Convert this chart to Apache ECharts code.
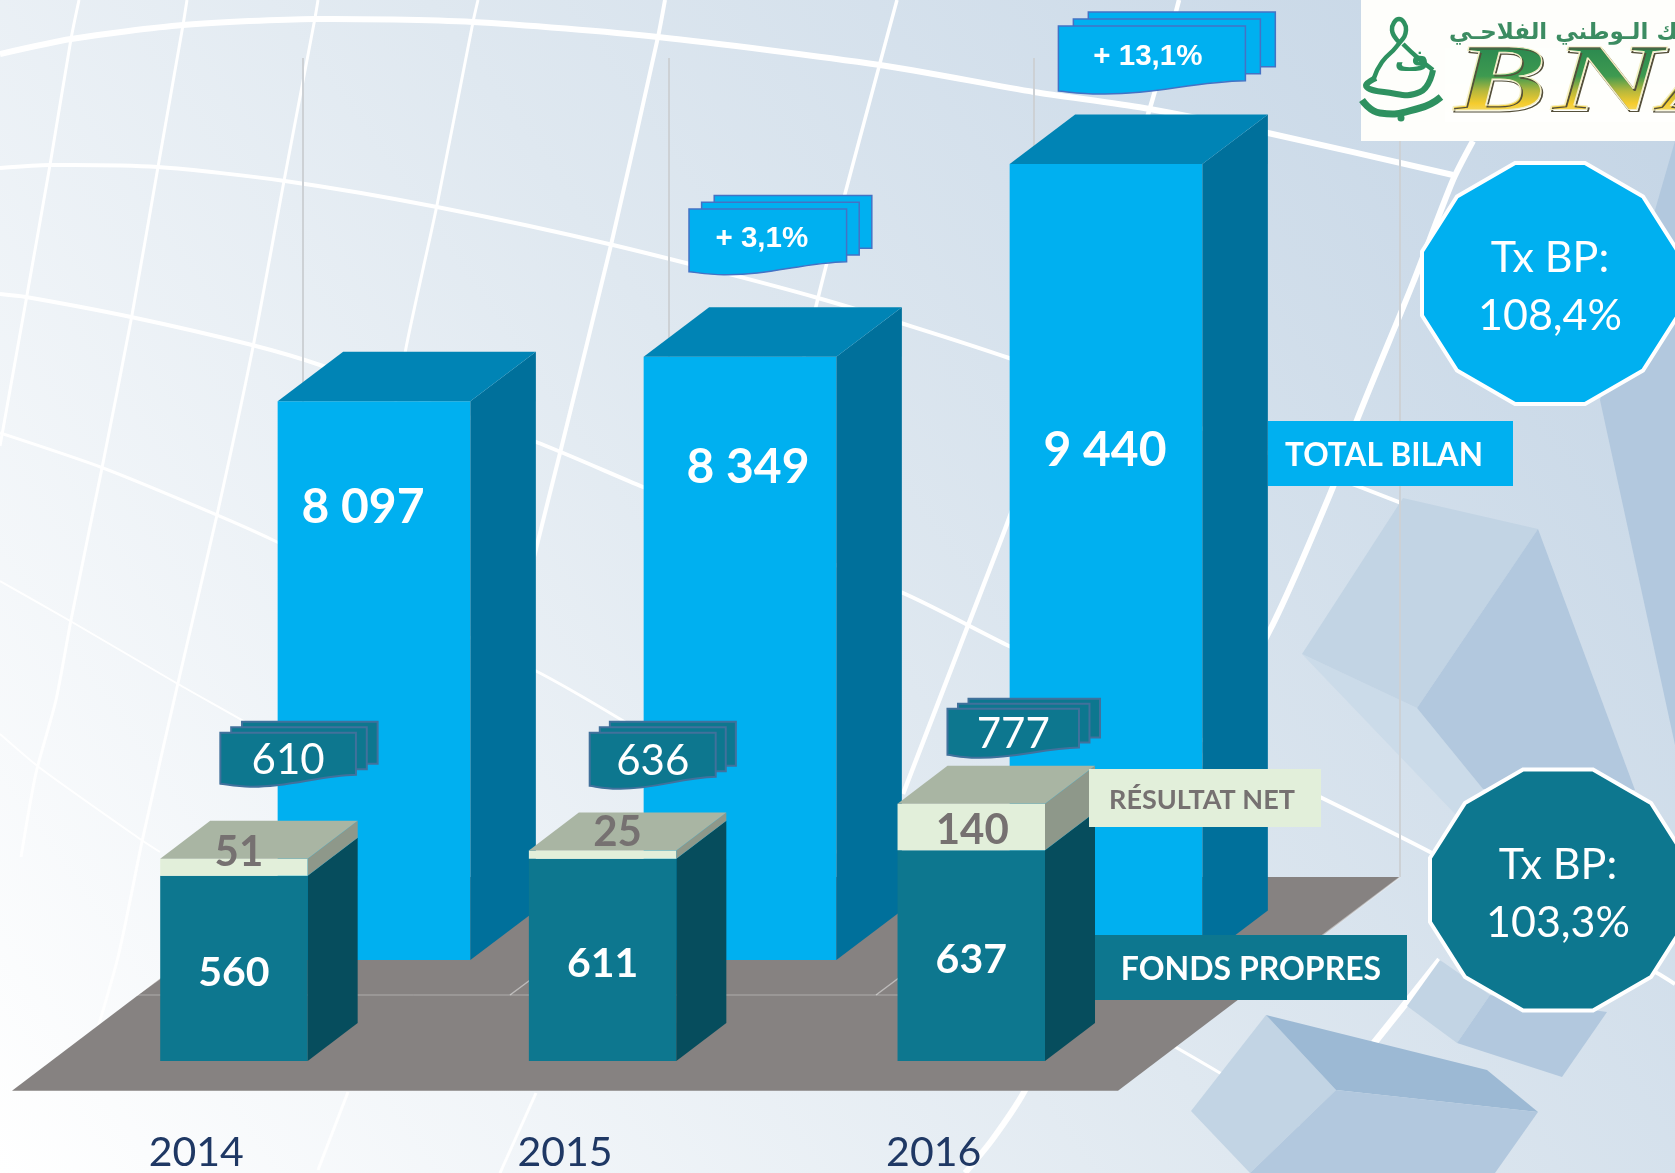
<!DOCTYPE html>
<html><head><meta charset="utf-8">
<style>html,body{margin:0;padding:0;overflow:hidden;background:#fff}#c{width:1675px;height:1173px}</style>
<script src="https://cdn.jsdelivr.net/npm/echarts@6/dist/echarts.min.js"></script>
</head><body><div id="c"></div>
<script>
// ---- data ----
const years = ['2014', '2015', '2016'];
const totalBilan = [8097, 8349, 9440];
const totalBilanText = ['8 097', '8 349', '9 440'];
const fondsPropres = [560, 611, 637];
const resultatNet = [51, 25, 140];
const cumul = [610, 636, 777];
const croissance = ['', '+ 3,1%', '+ 13,1%'];
const badges = [['Tx BP:', '108,4%'], ['Tx BP:', '103,3%']];

// ---- layout (pixels relative to what the scales return) ----
const D_TALL = [65.5, 49.4], D_SHORT = [50, 38];
const tallLabelNudge = [[-11, 106], [8, 111], [-1, 287]];
const resultNudge = [[5, -6], [15, -18], [1, 27]];
const growthDoc = [null, {dx:-51, dy:-147.7, w:157.6, hR:52.7, hL:62.7, sy:6.8, tx:-6},
                         {dx:-47.6, dy:-137.9, w:187, hR:54.7, hL:65, sy:7, tx:-4}];
const cumulDoc = [{dx:24, dy:-126.4, w:135.6, hR:42, hL:51, sy:5.5},
                  {dx:24.7, dy:-117.7, w:126, hR:44, hL:53, sy:5.5},
                  {dx:13.8, dy:-95, w:131.5, hR:38.7, hL:46, sy:5}];

const C = {blue:'#00B0F0', blueSide:'#00709B', blueTop:'#0084B5', teal:'#0D778F', tealSide:'#064D5D',
  capFront:'#E2EFDA', capTop:'#A9B5A3', capSide:'#8E988A', floor:'#868281', grey:'#767171', year:'#1F3864'};

function poly(points, fill){ return {type:'polygon', shape:{points}, style:{fill, stroke:null}}; }
function label(text, x, y, font, fill){ return {type:'text', z2:5, style:{text, x, y, font, fill, textAlign:'center', textVerticalAlign:'middle'}}; }
function box3d(l, r, yTop, yBot, d, front, side){
  return [poly([[l,yTop],[r,yTop],[r,yBot],[l,yBot]], front),
          poly([[r,yTop],[r+d[0],yTop-d[1]],[r+d[0],yBot-d[1]],[r,yBot]], side)];
}
function topFace(l, r, y, d, fill){ return poly([[l,y],[r,y],[r+d[0],y-d[1]],[l+d[0],y-d[1]]], fill); }

function renderTall(p, api){
  const i = api.value(0), band = api.size([1,0])[0], c = api.coord([i, api.value(1)]), b = api.coord([i, 4935]);
  const w = band*0.5265, l = c[0]-w/2, r = c[0]+w/2, n = tallLabelNudge[i];
  return {type:'group', children:[...box3d(l,r,c[1],b[1],D_TALL,C.blue,C.blueSide), topFace(l,r,c[1],D_TALL,C.blueTop),
    label(totalBilanText[i], c[0]+n[0], c[1]+n[1], 'bold 48px Lato', '#fff')]};
}
function shortX(api, i){
  const band = api.size([1,0])[0], cx = api.coord([i,0])[0] + band*0.102, w = band*0.4;
  return {cx, l:cx-w/2, r:cx+w/2};
}
function renderFonds(p, api){
  const i = api.value(0), v = api.value(1), s = shortX(api,i), t = api.coord([i,v])[1], b = api.coord([i,0])[1];
  return {type:'group', children:[...box3d(s.l,s.r,t,b,D_SHORT,C.teal,C.tealSide),
    label(String(v), s.cx, (t+b)/2+4, 'bold 41px Lato', '#fff')]};
}
function renderResult(p, api){
  const i = api.value(0), v = api.value(1), s = shortX(api,i), n = resultNudge[i];
  const b = api.coord([i,fondsPropres[i]])[1], t = api.coord([i,fondsPropres[i]+v])[1];
  return {type:'group', children:[...box3d(s.l,s.r,t,b,D_SHORT,C.capFront,C.capSide), topFace(s.l,s.r,t,D_SHORT,C.capTop),
    label(String(v), s.cx+n[0], t+n[1], 'bold 42px Lato', C.grey)]};
}
function docStack(x, y, o, fill, stroke, lw){
  const w=o.w, sx=w*0.08, sy=o.sy, r=x+w, yr=y+o.hR, yl=y+o.hL;
  const rect=(k)=>({type:'polygon', shape:{points:[[x+sx*k,y-sy*k],[r+sx*k,y-sy*k],[r+sx*k,yr-sy*k],[x+sx*k,yr-sy*k]]}, style:{fill,stroke,lineWidth:lw}});
  const d=`M${x} ${y}L${r} ${y}L${r} ${yr}C${x+w*0.72} ${yr+1} ${x+w*0.5} ${yl+4} ${x+w*0.22} ${yl+3}C${x+w*0.13} ${yl+3} ${x+w*0.06} ${yl+1} ${x} ${yl}Z`;
  return [rect(2), rect(1), {type:'path', shape:{pathData:d}, style:{fill,stroke,lineWidth:lw}}];
}
function renderGrowth(p, api){
  const i = api.value(0), c = api.coord([i, api.value(1)]), o = growthDoc[i];
  const x=c[0]+o.dx, y=c[1]+o.dy;
  return {type:'group', children:[...docStack(x,y,o,C.blue,'#4472C4',1.5),
    label(croissance[i], x+o.w/2+o.tx, y+o.hL*0.45+2, 'bold 29.5px "Liberation Sans"', '#fff')]};
}
function renderCumul(p, api){
  const i = api.value(0), c = api.coord([i, api.value(1)]), o = cumulDoc[i];
  const x=c[0]+o.dx, y=c[1]+o.dy;
  return {type:'group', children:[...docStack(x,y,o,C.teal,'#41719C',2),
    label(String(cumul[i]), x+o.w/2, y+o.hL*0.53+1, '42px Lato', '#fff')]};
}

// ---- decorative backdrop ----
const bg = [];
const G = (el,z)=>{el.silent=true; el.z=z||0; bg.push(el);};
G({type:'rect', shape:{x:0,y:0,width:1675,height:1173}, style:{fill:new echarts.graphic.LinearGradient(0,1,1,0,[{offset:0,color:'#ffffff'},{offset:0.5,color:'#dfe8f0'},{offset:1,color:'#c3d4e5'}])}});
const dec = (pts,fill)=>G({type:'polygon', shape:{points:pts}, style:{fill}});
const wl = (pts,lw)=>G({type:'polyline', shape:{points:pts, smooth:0.25}, style:{stroke:'#fff', lineWidth:lw, fill:null}});
wl([[0,54],[71,39],[183,25],[315,19],[473,22],[658,37],[880,65],[1034,92],[1144,108],[1268,133],[1453,175]],6);
wl([[0,168],[50,165],[158,167],[285,181],[437,207],[613,245],[818,298],[1009,358],[1268,453],[1360,487],[1470,530]],4);
wl([[0,294],[26,297],[131,317],[252,345],[320,365],[536,442],[643,487],[903,593],[1009,646],[1320,797],[1432,853],[1657,973],[1675,984]],4);
wl([[0,433],[103,468],[217,515],[277,542],[536,671],[620,719],[900,890],[1220,1073],[1320,1140]],3);
wl([[0,581],[72,622],[178,684],[247,723],[278,742]],2);
wl([[0,734],[40,768],[140,839],[160,852]],2);
wl([[79,0],[71,39],[50,165],[27,295],[0,446]],3);
wl([[187,0],[183,25],[158,167],[132,315],[102,468],[71,620],[56,700],[36,773],[21,857]],3);
wl([[318,0],[315,18],[284,181],[253,347],[217,515],[178,683],[143,837],[118,957],[89,1057]],3);
wl([[478,0],[473,22],[437,205],[406,348],[340,700]],3);
wl([[348,1092],[318,1170]],3);
wl([[665,0],[658,37],[611,245],[560,453],[536,549],[500,700]],4);
wl([[897,0],[880,63],[818,298],[700,800]],3.5);
wl([[536,1093],[500,1173]],3);
wl([[1179,0],[1150,108],[1084,310],[1010,516],[967,628],[903,794]],4.5);
wl([[1473,141],[1453,180],[1413,283],[1357,420],[1333,487],[1270,630],[1024,1092],[992,1140],[965,1173]],6);
wl([[1440,960],[1406,1003],[1374,1043]],7);
// shaded facets
dec([[1600,400],[1675,745],[1675,141]], '#b2c8de');
dec([[1302,654],[1417,708],[1483,789],[1457,816]], '#cbdbe9');
dec([[1302,654],[1403,498],[1538,529],[1417,708]], '#c2d4e4');
dec([[1538,529],[1635,790],[1483,789],[1417,708]], '#b2c8de');
dec([[1407,1006],[1457,1043],[1490,995],[1440,960]], '#c2d4e4');
dec([[1457,1043],[1562,1077],[1607,1012],[1490,995]], '#b2c8de');
// cube at the bottom right
dec([[1266,1015],[1336,1090],[1250,1173],[1191,1111]], '#c2d4e4');
dec([[1266,1015],[1487,1070],[1538,1112],[1336,1090]], '#9cb9d4');
dec([[1336,1090],[1538,1112],[1495,1173],[1250,1173]], '#b2c8de');
// the wall lines and the floor
[303,669,1034,1400].forEach(x=>G({type:'line', shape:{x1:x,y1:58,x2:x,y2:877}, style:{stroke:'#cdd1d5', lineWidth:2}}));
dec([[12,1090.7],[1118,1090.7],[1400,877],[294,877]], C.floor);
G({type:'line', shape:{x1:137,y1:995,x2:1243,y2:995}, style:{stroke:'rgba(255,255,255,0.35)', lineWidth:1}});
[[137,303],[510,669],[876,1034],[1243,1400]].forEach(a=>G({type:'line', shape:{x1:a[0],y1:995,x2:a[1],y2:877}, style:{stroke:'rgba(255,255,255,0.45)', lineWidth:1.5}}));

// logo
G({type:'rect', shape:{x:1361,y:0,width:314,height:141}, style:{fill:'#fefefb'}}, 20);
const EG = '#2E9160';
const stroke = (pts,lw)=>G({type:'polyline', shape:{points:pts, smooth:0.5}, style:{stroke:EG, lineWidth:lw, fill:null}}, 21);
stroke([[1401,44],[1392,30],[1399,19],[1406,30],[1397,46],[1382,62],[1374,78]],4.5);
stroke([[1403,44],[1418,58],[1433,70]],4.5);
stroke([[1376,78],[1366,86],[1384,92],[1420,92],[1433,70]],6);
stroke([[1362,100],[1380,113],[1420,108],[1441,97]],7);
G({type:'text', style:{text:'ف', x:1412, y:62, font:'bold 30px "DejaVu Sans"', fill:EG, textAlign:'center', textVerticalAlign:'middle'}}, 21);
G({type:'circle', shape:{cx:1401,cy:118,r:3.5}, style:{fill:EG}}, 21);
G({type:'text', style:{text:'البنك الـوطني الفلاحـي', x:1449, y:33, font:'bold 23px "DejaVu Sans"', fill:'#3C8C62', textAlign:'left', textVerticalAlign:'middle'}}, 21);
// BNA: black letters lit through a "screen" gradient, so the white ground stays white
const letters = [['B',1454,1.45],['N',1552,1.6],['A',1660,1.5]];
const base = c => ({text:c, x:0, y:0, font:'italic bold 96px "Liberation Serif"', textAlign:'left', textVerticalAlign:'middle'});
letters.forEach(a=>G({type:'text', x:a[1], y:85, scaleX:a[2], style:{...base(a[0]), fill:'#000'}}, 22));
G({type:'rect', shape:{x:1445,y:48,width:230,height:74}, style:{blend:'screen',
  fill:new echarts.graphic.LinearGradient(0,0,0,1,[{offset:0,color:'#2C8A50'},{offset:0.38,color:'#3E9A50'},{offset:0.58,color:'#B7B83C'},{offset:0.75,color:'#F5CC2E'},{offset:1,color:'#F2E9A0'}])}}, 23);
letters.forEach(a=>{
  G({type:'text', x:a[1]+1.5, y:87, scaleX:a[2], style:{...base(a[0]), fill:'none', stroke:'#55503a', lineWidth:1.2}}, 24);
  G({type:'text', x:a[1], y:85, scaleX:a[2], style:{...base(a[0]), fill:'none', stroke:'#f4efc4', lineWidth:1}}, 25);
});

// ---- labels and badges (foreground) ----
function legendBox(x,y,w,h,fill,text,color,font,tx,ty){
  G({type:'rect', shape:{x,y,width:w,height:h}, style:{fill}}, 30);
  G({type:'text', style:{text, x:tx, y:ty, font, fill:color, textAlign:'center', textVerticalAlign:'middle'}}, 31);
}
legendBox(1268,421,245,65,C.blue,'TOTAL BILAN','#fff','bold 31.5px Lato',1384,456);
legendBox(1089,769,232,58,C.capFront,'RÉSULTAT NET',C.grey,'bold 27px Lato',1202,800);
legendBox(1095,935,312,65,C.teal,'FONDS PROPRES','#fff','bold 32px Lato',1251,970);
function badge(cx,cy,fill,lines,y1,y2){
  const o=[[-35,-120.5],[35,-120.5],[93,-87],[128,-32],[128,32],[93,87],[35,120.5],[-35,120.5],[-93,87],[-128,32],[-128,-32],[-93,-87]];
  G({type:'polygon', shape:{points:o.map(p=>[cx+p[0],cy+p[1]])}, style:{fill, stroke:'#fff', lineWidth:4}}, 30);
  G({type:'text', style:{text:lines[0], x:cx, y:y1, font:'43px Lato', fill:'#fff', textAlign:'center', textVerticalAlign:'middle'}}, 31);
  G({type:'text', style:{text:lines[1], x:cx, y:y2, font:'43px Lato', fill:'#fff', textAlign:'center', textVerticalAlign:'middle'}}, 31);
}
badge(1550,283.5,C.blue,badges[0],258,316);
badge(1558,890,C.teal,badges[1],865,923);

const hiddenY = {type:'value', show:false, splitLine:{show:false}};
const idx = a => a.map((v,i)=>[i,v]);
const chart = echarts.init(document.getElementById('c'), null, {renderer:'canvas'});
chart.setOption({
  animation:false,
  grid:[{left:12, width:1106, top:730, height:332},{left:191, width:1098, top:65, height:895}],
  xAxis:[
    {type:'category', gridIndex:0, data:years, axisLine:{show:false}, axisTick:{show:false},
     axisLabel:{margin:71, fontFamily:'Lato', fontSize:41, color:C.year}},
    {type:'category', gridIndex:1, data:years, show:false}
  ],
  yAxis:[
    {...hiddenY, gridIndex:0, min:0, max:1000},
    {...hiddenY, gridIndex:1, min:4935, max:10000}
  ],
  graphic:{elements:bg},
  series:[
    {name:'Total bilan', type:'custom', xAxisIndex:1, yAxisIndex:1, z:3, clip:false, renderItem:renderTall, encode:{x:0,y:1}, data:idx(totalBilan)},
    {name:'Croissance', type:'custom', xAxisIndex:1, yAxisIndex:1, z:4, clip:false, renderItem:renderGrowth, encode:{x:0,y:1}, data:idx(totalBilan).slice(1)},
    {name:'Fonds propres', type:'custom', xAxisIndex:0, yAxisIndex:0, z:5, clip:false, renderItem:renderFonds, encode:{x:0,y:1}, data:idx(fondsPropres)},
    {name:'Résultat net', type:'custom', xAxisIndex:0, yAxisIndex:0, z:6, clip:false, renderItem:renderResult, encode:{x:0,y:1}, data:idx(resultatNet)},
    {name:'Cumul', type:'custom', xAxisIndex:0, yAxisIndex:0, z:7, clip:false, renderItem:renderCumul, encode:{x:0,y:1}, data:idx(cumul)}
  ]
});
</script></body></html>
